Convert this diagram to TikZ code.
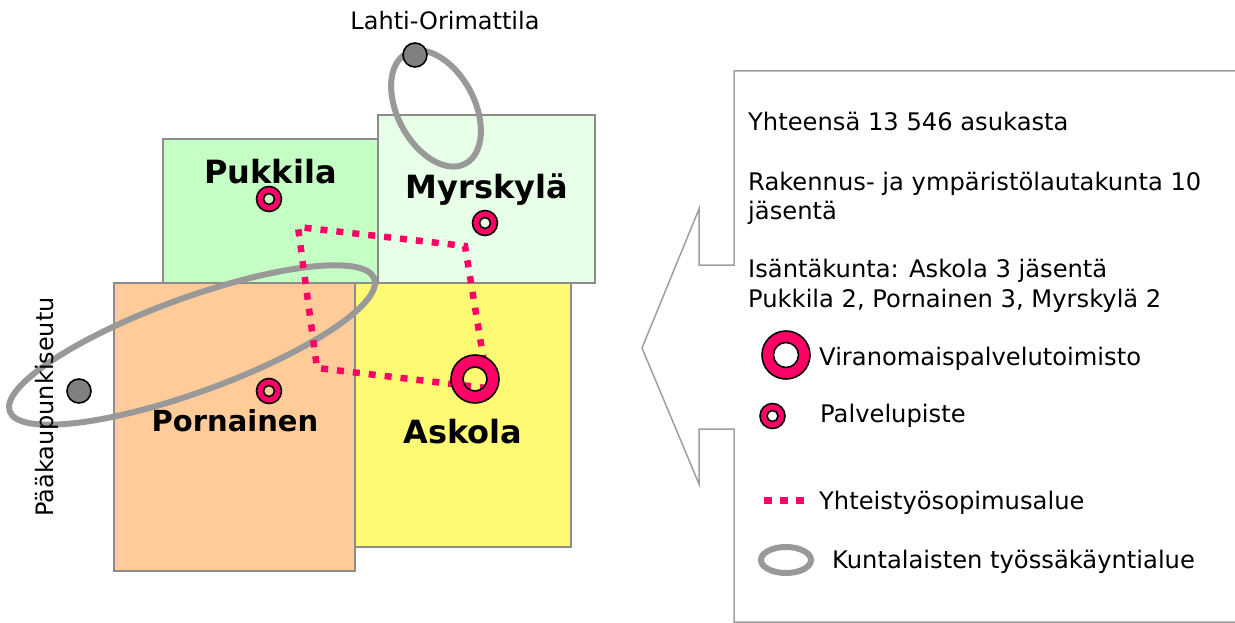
\documentclass[tikz,border=0pt]{standalone}
\usepackage{fontspec}
\setmainfont{DejaVu Sans}
\usepackage{tikz}
\definecolor{pinkline}{HTML}{FF0066}
\definecolor{regionline}{HTML}{8C8C8C}
\definecolor{commute}{HTML}{999999}
\begin{document}
\begin{tikzpicture}[x=1pt, y=-1pt,
        muni/.style={draw=regionline, line width=1.8pt},
        town/.style={font=\fontsize{32}{38}\selectfont\bfseries, inner sep=0pt, anchor=base},
        note/.style={font=\fontsize{24.2}{29}\selectfont, inner sep=0pt, anchor=base west},
        place/.style={font=\fontsize{24}{29}\selectfont, inner sep=0pt, anchor=base},
        area/.style={draw=pinkline, line width=6.5pt, dash pattern=on 7pt off 9pt},
        work/.style={draw=commute, line width=6pt},
        ring/.style={draw=black, line width=1.6pt, fill=pinkline, even odd rule},
        city/.style={draw=black, line width=1.6pt, fill=gray}]
        \useasboundingbox (0,0) rectangle (1235,623);
        \draw[muni, fill={rgb,255:red,196;green,255;blue,196}] (163,139) rectangle (379,283);
        \draw[muni, fill={rgb,255:red,230;green,255;blue,230}] (378,115) rectangle (595,283);
        \draw[muni, fill={rgb,255:red,255;green,250;blue,115}] (355,283) rectangle (571,547);
        \draw[muni, fill={rgb,255:red,255;green,204;blue,153}] (114,283) rectangle (355,571);
        \draw[work] (436,108.5) ellipse [x radius=62.5pt, y radius=38.5pt, rotate=-62];
        \draw[work] (192,345) ellipse [x radius=194pt, y radius=47pt, rotate=20];
        \draw[area] (484,362) -- (465,246) -- (298,227) -- (317,368) -- (486,388);
        \draw[ring] (269,199) circle (12.5pt) circle (5.5pt);
        \draw[ring] (485,223) circle (12.5pt) circle (5.5pt);
        \draw[ring] (269,391) circle (12.5pt) circle (5.5pt);
        \draw[ring] (475,379) circle (24pt) circle (12pt);
        \draw[city] (415,55) circle (12pt);
        \draw[city] (79,391) circle (12pt);
        \node[town] (pukkila) at (270.5,183) {Pukkila};
        \node[town] (myrskyla) at (487,198) {Myrskylä};
        \node[town, font=\fontsize{29}{35}\selectfont\bfseries] (pornainen) at (235,431) {Pornainen};
        \node[town] (askola) at (463,443) {Askola};
        \node[place] (lahti) at (445,30) {Lahti-Orimattila};
        \node[place, rotate=90] (paakaupunki) at (53,407) {Pääkaupunkiseutu};
        \draw[draw=gray!75, line width=1.5pt, fill=white] (1236,71) -- (734,71) -- (734,265) -- (699,265) -- (699,209) -- (642,348) -- (699,484) -- (699,429) -- (734,429) -- (734,622) -- (1236,622);
        \node[note] (total) at (748,131) {Yhteensä 13 546 asukasta};
        \node[note] (board1) at (748,190) {Rakennus- ja ympäristölautakunta 10};
        \node[note] (board2) at (748,219) {jäsentä};
        \node[note] (host1) at (748,277) {Isäntäkunta: Askola 3 jäsentä};
        \node[note] (host2) at (748,307) {Pukkila 2, Pornainen 3, Myrskylä 2};
        \draw[ring] (786,355) circle (24pt) circle (12.5pt);
        \draw[ring] (772.5,416) circle (12.5pt) circle (5.5pt);
        \draw[draw=pinkline, line width=7pt, dash pattern=on 8pt off 8pt] (764,500) -- (805,500);
        \draw[work] (786,560) ellipse [x radius=25pt, y radius=13pt];
        \node[note] (office) at (819,365) {Viranomaispalvelutoimisto};
        \node[note] (point) at (820,422) {Palvelupiste};
        \node[note] (agreement) at (819,509) {Yhteistyösopimusalue};
        \node[note] (commuting) at (832,568) {Kuntalaisten työssäkäyntialue};
    \end{tikzpicture}
\end{document}
